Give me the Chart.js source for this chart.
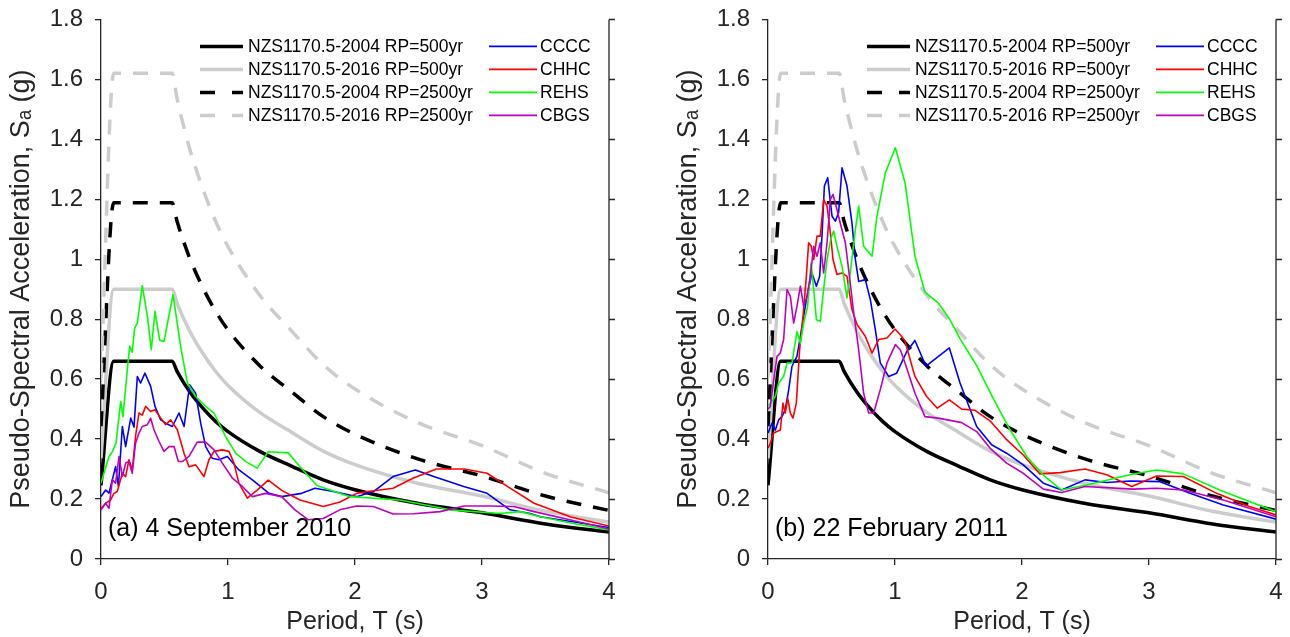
<!DOCTYPE html>
<html>
<head>
<meta charset="utf-8">
<title>Response spectra - Canterbury earthquakes</title>
<script src="https://cdn.jsdelivr.net/npm/chart.js@4.4.1/dist/chart.umd.min.js"></script>
<style>
  html, body { margin: 0; padding: 0; background: #fff; }
  #wrap { position: relative; width: 1290px; height: 637px; overflow: hidden; }
  canvas { position: absolute; top: -7px; }
  #chart-sep { left: 0; }
  #chart-feb { left: 667px; }
</style>
</head>
<body>
<div id="wrap">
  <canvas id="chart-sep" width="640" height="644"></canvas>
  <canvas id="chart-feb" width="629" height="644"></canvas>
</div>
<script>
// design spectra (NZS1170.5), same in both panels
const codePeriod   = [0, 0.1, 0.56, 0.6, 0.7, 0.8, 0.9, 1.0, 1.25, 1.5, 1.75, 2.0, 2.5, 3.0, 3.5, 4.0];
const nzs2004_500  = [0.246, 0.66, 0.66, 0.625, 0.557, 0.504, 0.46, 0.425, 0.359, 0.31, 0.264, 0.231, 0.185, 0.154, 0.117, 0.09];
const nzs2016_500  = [0.336, 0.90, 0.90, 0.852, 0.759, 0.687, 0.627, 0.579, 0.489, 0.423, 0.36, 0.315, 0.252, 0.21, 0.159, 0.123];
const nzs2004_2500 = [0.443, 1.188, 1.188, 1.125, 1.002, 0.907, 0.828, 0.764, 0.645, 0.558, 0.475, 0.416, 0.333, 0.277, 0.21, 0.162];
const nzs2016_2500 = [0.605, 1.62, 1.62, 1.534, 1.366, 1.237, 1.129, 1.042, 0.88, 0.761, 0.648, 0.567, 0.454, 0.378, 0.286, 0.221];
const codeLabels = ['NZS1170.5-2004 RP=500yr', 'NZS1170.5-2016 RP=500yr', 'NZS1170.5-2004 RP=2500yr', 'NZS1170.5-2016 RP=2500yr'];

const stations = ['CCCC', 'CHHC', 'REHS', 'CBGS'];
const stationColors = ['#0000ff', '#ff0000', '#00ff00', '#bf00bf'];

// (a) 4 September 2010
const sepCCCC_T  = [0, 0.037, 0.063, 0.089, 0.115, 0.137, 0.168, 0.194, 0.234, 0.26, 0.286, 0.312, 0.346, 0.391, 0.425, 0.47, 0.509, 0.562, 0.614, 0.654, 0.698, 0.745, 0.785, 0.824, 0.877, 0.929, 0.995, 1.086, 1.192, 1.323, 1.423, 1.58, 1.685, 1.83, 2.013, 2.145, 2.30, 2.475, 2.62, 2.856, 3.04, 3.22, 3.38, 3.46, 3.7, 4.0];
const sepCCCC_Sa = [0.208, 0.23, 0.22, 0.264, 0.308, 0.242, 0.442, 0.375, 0.47, 0.44, 0.609, 0.587, 0.62, 0.576, 0.509, 0.464, 0.453, 0.442, 0.487, 0.442, 0.581, 0.553, 0.453, 0.375, 0.336, 0.331, 0.342, 0.297, 0.264, 0.219, 0.208, 0.219, 0.236, 0.225, 0.208, 0.225, 0.275, 0.297, 0.275, 0.242, 0.219, 0.164, 0.152, 0.141, 0.125, 0.105];
const sepCHHC_T  = [0, 0.037, 0.076, 0.102, 0.128, 0.168, 0.194, 0.22, 0.246, 0.272, 0.299, 0.325, 0.351, 0.391, 0.425, 0.47, 0.509, 0.549, 0.601, 0.654, 0.693, 0.745, 0.811, 0.85, 0.89, 0.955, 1.008, 1.047, 1.086, 1.152, 1.23, 1.317, 1.423, 1.567, 1.75, 1.882, 2.013, 2.1, 2.30, 2.46, 2.64, 2.86, 3.04, 3.20, 3.41, 3.7, 4.0];
const sepCHHC_Sa = [0.169, 0.186, 0.197, 0.219, 0.225, 0.286, 0.275, 0.331, 0.297, 0.409, 0.487, 0.48, 0.509, 0.492, 0.498, 0.47, 0.448, 0.464, 0.431, 0.353, 0.308, 0.314, 0.275, 0.331, 0.359, 0.364, 0.359, 0.32, 0.253, 0.203, 0.23, 0.263, 0.229, 0.197, 0.175, 0.19, 0.219, 0.225, 0.236, 0.27, 0.3, 0.3, 0.286, 0.242, 0.186, 0.14, 0.11];
const sepREHS_T  = [0, 0.063, 0.09, 0.118, 0.155, 0.173, 0.207, 0.226, 0.246, 0.265, 0.286, 0.325, 0.365, 0.396, 0.425, 0.462, 0.496, 0.567, 0.627, 0.68, 0.745, 0.824, 0.89, 0.98, 1.06, 1.14, 1.23, 1.317, 1.475, 1.567, 1.70, 1.96, 2.354, 2.748, 3.14, 3.30, 3.46, 3.7, 4.0];
const sepREHS_Sa = [0.253, 0.342, 0.358, 0.386, 0.525, 0.475, 0.63, 0.71, 0.69, 0.77, 0.787, 0.912, 0.81, 0.698, 0.826, 0.73, 0.726, 0.882, 0.709, 0.587, 0.542, 0.509, 0.487, 0.409, 0.353, 0.325, 0.303, 0.358, 0.354, 0.308, 0.245, 0.208, 0.197, 0.164, 0.152, 0.158, 0.141, 0.12, 0.097];
const sepCBGS_T  = [0, 0.037, 0.063, 0.089, 0.115, 0.142, 0.168, 0.194, 0.22, 0.246, 0.272, 0.299, 0.325, 0.365, 0.391, 0.417, 0.457, 0.496, 0.536, 0.575, 0.609, 0.64, 0.693, 0.758, 0.824, 0.89, 0.955, 1.034, 1.113, 1.192, 1.297, 1.423, 1.527, 1.63, 1.75, 1.88, 2.013, 2.145, 2.30, 2.46, 2.67, 2.86, 3.06, 3.25, 3.41, 3.7, 4.0];
const sepCBGS_Sa = [0.164, 0.186, 0.169, 0.264, 0.253, 0.342, 0.275, 0.32, 0.325, 0.286, 0.386, 0.42, 0.442, 0.448, 0.47, 0.431, 0.392, 0.359, 0.375, 0.375, 0.325, 0.325, 0.342, 0.39, 0.39, 0.364, 0.32, 0.27, 0.242, 0.208, 0.219, 0.208, 0.164, 0.131, 0.135, 0.164, 0.177, 0.175, 0.15, 0.151, 0.158, 0.177, 0.177, 0.175, 0.158, 0.13, 0.10];

// (b) 22 February 2011
const febCCCC_T  = [0, 0.031, 0.058, 0.084, 0.110, 0.136, 0.163, 0.189, 0.228, 0.255, 0.281, 0.307, 0.346, 0.381, 0.407, 0.425, 0.444, 0.47, 0.504, 0.53, 0.556, 0.583, 0.622, 0.661, 0.688, 0.714, 0.766, 0.806, 0.845, 0.884, 0.95, 1.013, 1.094, 1.157, 1.244, 1.428, 1.512, 1.643, 1.761, 1.879, 2.01, 2.168, 2.312, 2.496, 2.667, 2.85, 3.087, 3.323, 3.585, 4.0];
const febCCCC_Sa = [0.42, 0.453, 0.43, 0.464, 0.475, 0.498, 0.565, 0.643, 0.676, 0.743, 0.81, 0.876, 0.954, 0.91, 0.943, 1.077, 1.244, 1.272, 1.144, 1.127, 1.155, 1.305, 1.244, 1.121, 0.999, 0.926, 0.932, 0.865, 0.765, 0.654, 0.609, 0.62, 0.693, 0.729, 0.643, 0.704, 0.587, 0.442, 0.381, 0.353, 0.314, 0.253, 0.23, 0.264, 0.255, 0.26, 0.258, 0.219, 0.18, 0.133];
const febCHHC_T  = [0, 0.018, 0.045, 0.071, 0.097, 0.118, 0.136, 0.155, 0.176, 0.197, 0.223, 0.249, 0.276, 0.302, 0.32, 0.341, 0.36, 0.386, 0.412, 0.438, 0.465, 0.491, 0.512, 0.543, 0.583, 0.622, 0.661, 0.701, 0.766, 0.819, 0.871, 0.937, 1.0, 1.042, 1.079, 1.157, 1.249, 1.333, 1.428, 1.525, 1.63, 1.748, 1.879, 2.01, 2.141, 2.30, 2.496, 2.667, 2.864, 3.06, 3.27, 3.533, 3.79, 4.0];
const febCHHC_Sa = [0.37, 0.386, 0.42, 0.425, 0.43, 0.52, 0.487, 0.537, 0.487, 0.47, 0.52, 0.698, 0.81, 0.943, 1.055, 1.043, 0.999, 1.077, 1.077, 1.199, 1.177, 1.088, 0.999, 0.949, 0.954, 0.943, 0.832, 0.782, 0.743, 0.687, 0.732, 0.737, 0.767, 0.748, 0.726, 0.609, 0.542, 0.503, 0.531, 0.5, 0.496, 0.461, 0.398, 0.347, 0.284, 0.288, 0.30, 0.281, 0.242, 0.277, 0.275, 0.219, 0.175, 0.147];
const febREHS_T  = [0, 0.018, 0.058, 0.084, 0.123, 0.15, 0.189, 0.228, 0.255, 0.281, 0.312, 0.339, 0.36, 0.381, 0.412, 0.438, 0.465, 0.496, 0.517, 0.543, 0.583, 0.622, 0.654, 0.688, 0.714, 0.753, 0.819, 0.858, 0.924, 1.003, 1.079, 1.157, 1.236, 1.341, 1.433, 1.512, 1.643, 1.774, 1.906, 2.037, 2.168, 2.312, 2.509, 2.85, 3.06, 3.27, 3.585, 4.0];
const febREHS_Sa = [0.51, 0.52, 0.542, 0.587, 0.609, 0.654, 0.654, 0.759, 0.72, 0.787, 0.843, 0.988, 0.899, 0.798, 0.793, 0.899, 0.999, 1.071, 1.094, 1.043, 0.977, 0.871, 0.977, 1.099, 1.177, 1.043, 1.01, 1.144, 1.288, 1.372, 1.255, 1.01, 0.89, 0.854, 0.798, 0.735, 0.645, 0.535, 0.431, 0.342, 0.28, 0.23, 0.247, 0.281, 0.297, 0.284, 0.225, 0.158];
const febCBGS_T  = [0, 0.018, 0.045, 0.071, 0.097, 0.123, 0.15, 0.176, 0.202, 0.228, 0.255, 0.281, 0.307, 0.333, 0.36, 0.386, 0.412, 0.438, 0.465, 0.491, 0.512, 0.543, 0.575, 0.609, 0.635, 0.675, 0.714, 0.753, 0.793, 0.832, 0.884, 0.937, 1.003, 1.042, 1.079, 1.157, 1.236, 1.341, 1.525, 1.643, 1.748, 1.879, 2.01, 2.168, 2.312, 2.496, 2.877, 3.06, 3.27, 3.585, 4.0];
const febCBGS_Sa = [0.5, 0.509, 0.598, 0.676, 0.687, 0.732, 0.899, 0.876, 0.787, 0.843, 0.91, 0.843, 0.876, 0.943, 1.043, 1.01, 1.055, 0.954, 1.055, 1.199, 1.216, 1.166, 1.11, 1.055, 0.965, 0.821, 0.698, 0.553, 0.487, 0.487, 0.565, 0.654, 0.715, 0.698, 0.654, 0.553, 0.475, 0.47, 0.455, 0.425, 0.37, 0.32, 0.286, 0.233, 0.222, 0.242, 0.233, 0.236, 0.23, 0.197, 0.141];

const xTickStep = 1;
const yTickStep = 0.2;

const FONT = "'Liberation Sans', Arial, Helvetica, 'DejaVu Sans', sans-serif";
Chart.defaults.font.family = FONT;
Chart.defaults.color = '#262626';

function pairs(T, Sa) {
    return T.map((t, i) => ({ x: t, y: Sa[i] }));
}

function buildDatasets(records) {
    const codes = [nzs2004_500, nzs2016_500, nzs2004_2500, nzs2016_2500];
    const codeColors = ['#000000', '#cccccc', '#000000', '#cccccc'];
    const sets = codes.map((vals, i) => ({
        label: codeLabels[i],
        data: pairs(codePeriod, vals),
        borderColor: codeColors[i],
        borderWidth: 3.5,
        borderDash: i >= 2 ? [15, 12] : [],
        cubicInterpolationMode: 'monotone'
    }));
    records.forEach((r, i) => {
        sets.push({
            label: stations[i],
            data: pairs(r[0], r[1]),
            borderColor: stationColors[i],
            borderWidth: 1.6,
            borderDash: [],
            borderJoinStyle: 'round'
        });
    });
    // later series are drawn on top, like the original plot
    sets.forEach((s, i) => {
        s.order = 7 - i;
        s.pointRadius = 0;
        s.fill = false;
        s.tension = 0;
    });
    return sets;
}

// right-hand axis, legend and panel caption
const panelDecor = {
    id: 'panelDecor',
    afterDatasetsDraw(chart, args, opts) {
        const { ctx, chartArea: a, scales } = chart;
        const y = scales.y;
        ctx.save();

        ctx.strokeStyle = '#262626';
        ctx.lineWidth = 1.3;
        ctx.setLineDash([]);
        ctx.beginPath();
        ctx.moveTo(a.right, a.top);
        ctx.lineTo(a.right, a.bottom);
        y.ticks.forEach(t => {
            const py = Math.round(y.getPixelForValue(t.value)) + 0.5;
            ctx.moveTo(a.right, py);
            ctx.lineTo(a.right + 6, py);
        });
        ctx.stroke();

        ctx.font = '17.5px ' + FONT;
        ctx.textBaseline = 'middle';
        ctx.textAlign = 'left';
        chart.data.datasets.forEach((d, i) => {
            const col = i < 4 ? 0 : 1;
            const yy = a.top + 27 + (i % 4) * 23;
            const x0 = a.left + (col ? 388 : 99);
            const x1 = x0 + (col ? 48 : 43);
            ctx.strokeStyle = d.borderColor;
            ctx.lineWidth = d.borderWidth;
            ctx.setLineDash(d.borderDash.length ? [15, 17] : []);
            ctx.beginPath();
            ctx.moveTo(x0, yy);
            ctx.lineTo(x1, yy);
            ctx.stroke();
            ctx.fillStyle = '#000';
            ctx.fillText(d.label, a.left + (col ? 439 : 147), yy + 1);
        });

        ctx.setLineDash([]);
        ctx.font = '25px ' + FONT;
        ctx.fillStyle = '#000';
        ctx.textBaseline = 'alphabetic';
        ctx.fillText(opts.note, a.left + 7, a.bottom - 23);
        ctx.restore();
    }
};

function renderPanel(id, records, note, rightPad) {
    const axisStyle = {
        grid: { display: true, drawOnChartArea: false, drawTicks: true, tickLength: 6, color: '#262626', lineWidth: 1.3 },
        border: { display: true, color: '#262626', width: 1.3 }
    };
    new Chart(document.getElementById(id), {
        type: 'line',
        data: { datasets: buildDatasets(records) },
        options: {
            responsive: false,
            animation: false,
            layout: { padding: { top: 20, right: rightPad, bottom: 0, left: 0 } },
            plugins: {
                legend: { display: false },
                tooltip: { enabled: false },
                panelDecor: { note: note }
            },
            scales: {
                x: {
                    type: 'linear', min: 0, max: 4,
                    ticks: { stepSize: xTickStep, font: { size: 24 }, color: '#262626', padding: 13, maxRotation: 0 },
                    ...axisStyle,
                    title: { display: true, text: 'Period, T (s)', font: { size: 25, lineHeight: 1 }, color: '#262626', padding: { top: 0, bottom: 2 } },
                    afterFit: s => { s.height = 78; }
                },
                y: {
                    type: 'linear', min: 0, max: 1.8,
                    ticks: { stepSize: yTickStep, font: { size: 24 }, color: '#262626', padding: 12,
                             callback: v => String(Math.round(v * 10) / 10) },
                    ...axisStyle,
                    title: { display: true, text: 'Pseudo-Spectral Acceleration, S\u2090 (g)', font: { size: 27, lineHeight: 1 }, color: '#262626', padding: { top: 8, bottom: 0 } },
                    afterFit: s => { s.width = 101; }
                }
            }
        },
        plugins: [panelDecor]
    });
}

renderPanel('chart-sep', [
    [sepCCCC_T, sepCCCC_Sa], [sepCHHC_T, sepCHHC_Sa], [sepREHS_T, sepREHS_Sa], [sepCBGS_T, sepCBGS_Sa]
], '(a) 4 September 2010', 31);

renderPanel('chart-feb', [
    [febCCCC_T, febCCCC_Sa], [febCHHC_T, febCHHC_Sa], [febREHS_T, febREHS_Sa], [febCBGS_T, febCBGS_Sa]
], '(b) 22 February 2011', 20);
</script>
</body>
</html>
